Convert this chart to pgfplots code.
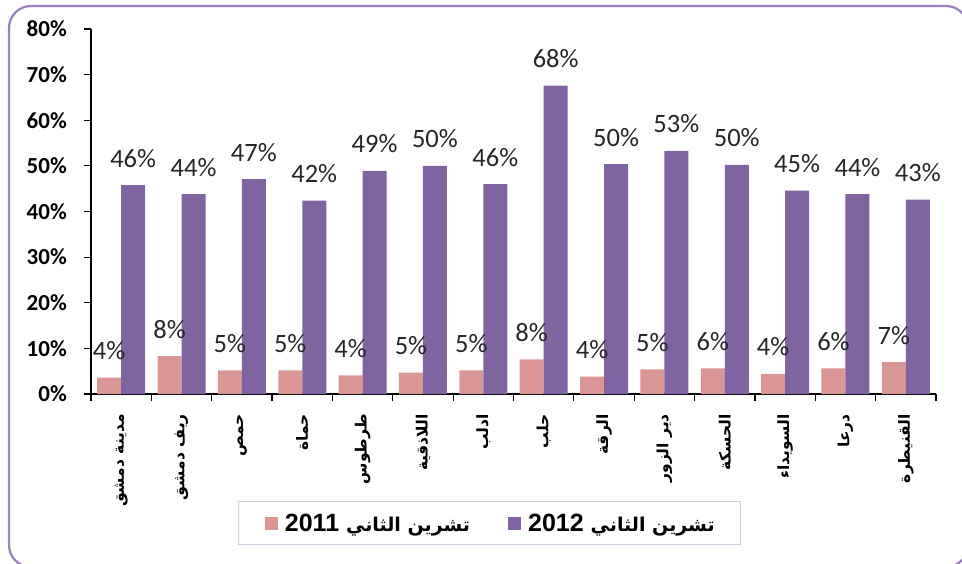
\documentclass[border=0pt]{standalone}
\usepackage{fontspec}
\usepackage{pgfplots}
\pgfplotsset{compat=1.18}
\TeXXeTstate=1
\setmainfont{Liberation Sans}
\newfontfamily\arabicfont[Script=Arabic]{DejaVu Sans}
\newfontfamily\calfont{Carlito}
\definecolor{pinkbar}{HTML}{D99694}
\definecolor{purplebar}{HTML}{8064A2}
\definecolor{framecol}{HTML}{9A80C0}
\definecolor{legframe}{HTML}{D5CBE3}
\pgfplotstableread{
x y2011 y2012
0 3.6 45.8
1 8.3 43.8
2 5.2 47.1
3 5.2 42.4
4 4.1 48.9
5 4.7 50.0
6 5.2 46.0
7 7.6 67.6
8 3.8 50.4
9 5.4 53.3
10 5.6 50.2
11 4.4 44.6
12 5.6 43.8
13 7.0 42.6
}\datatable
\begin{document}
\begin{tikzpicture}[x=1pt,y=1pt]
\useasboundingbox (0,0) rectangle (962,563);
\begin{scope}
\clip (0,0) rectangle (962,563);
\draw[framecol, line width=2.2pt, rounded corners=22pt] (9,-4) rectangle (968,557);
\end{scope}
\begin{axis}[
  at={(91pt,169pt)}, anchor=south west,
  scale only axis, width=845pt, height=365pt,
  ymin=0, ymax=80, xmin=-0.5, xmax=13.5,
  axis x line*=bottom, axis y line*=left,
  axis line style={black, line width=1.3pt},
  ybar=0pt, bar width=24pt,
  /pgf/number format/assume math mode=true,
  ytick={0,10,...,80},
  yticklabels={0\%,10\%,20\%,30\%,40\%,50\%,60\%,70\%,80\%},
  yticklabel style={font=\calfont\bfseries\fontsize{23}{23}\selectfont, inner sep=0pt, anchor=east},
  yticklabel shift=17pt,
  ytick style={black, line width=1.2pt},
  tick align=outside,
  major tick length=7pt,
  xtick={0,...,13},
  major x tick style={draw=none},
  minor xtick={-0.5,0.5,...,13.5},
  minor x tick style={black, line width=1.2pt},
  minor tick length=7pt,
  xticklabels={
    {\arabicfont\bfseries\beginR مدينة دمشق\endR},
    {\arabicfont\bfseries\beginR ريف دمشق\endR},
    {\arabicfont\bfseries\beginR حمص\endR},
    {\arabicfont\bfseries\beginR حماة\endR},
    {\arabicfont\bfseries\beginR طرطوس\endR},
    {\arabicfont\bfseries\beginR اللاذقية\endR},
    {\arabicfont\bfseries\beginR ادلب\endR},
    {\arabicfont\bfseries\beginR حلب\endR},
    {\arabicfont\bfseries\beginR الرقة\endR},
    {\arabicfont\bfseries\beginR دير الزور\endR},
    {\arabicfont\bfseries\beginR الحسكة\endR},
    {\arabicfont\bfseries\beginR السويداء\endR},
    {\arabicfont\bfseries\beginR درعا\endR},
    {\arabicfont\bfseries\beginR القنيطرة\endR}},
  xticklabel style={font=\fontsize{15.5}{15.5}\selectfont, rotate=90, anchor=east, inner sep=0pt},
  xticklabel shift=13pt,
  nodes near coords={\pgfmathprintnumber[fixed,precision=0]{\pgfplotspointmeta}\%},
  every node near coord/.append style={font=\calfont\fontsize{26.5}{26.5}\selectfont, text=black!85, anchor=base, inner sep=0pt, yshift=18pt},
  legend columns=2,
  legend style={at={(0.472,-0.354)}, anchor=center, draw=legframe, line width=1pt,
    inner xsep=26pt, inner ysep=12pt,
    nodes={inner sep=0pt},
    /tikz/every odd column/.append style={column sep=7pt},
    /tikz/every even column/.append style={column sep=38pt}},
  legend image code/.code={\fill[#1] (0pt,-6.5pt) rectangle (13pt,6.5pt);},
]
\addplot[fill=pinkbar, draw=none] table[x=x, y=y2011] {\datatable};
\addplot[fill=purplebar, draw=none] table[x=x, y=y2012] {\datatable};
\legend{{\fontsize{25}{25}\selectfont\bfseries 2011 {\arabicfont\bfseries\fontsize{19}{19}\selectfont\beginR تشرين الثاني\endR}},{\fontsize{25}{25}\selectfont\bfseries 2012 {\arabicfont\bfseries\fontsize{19}{19}\selectfont\beginR تشرين الثاني\endR}}}
\end{axis}
\end{tikzpicture}
\end{document}
